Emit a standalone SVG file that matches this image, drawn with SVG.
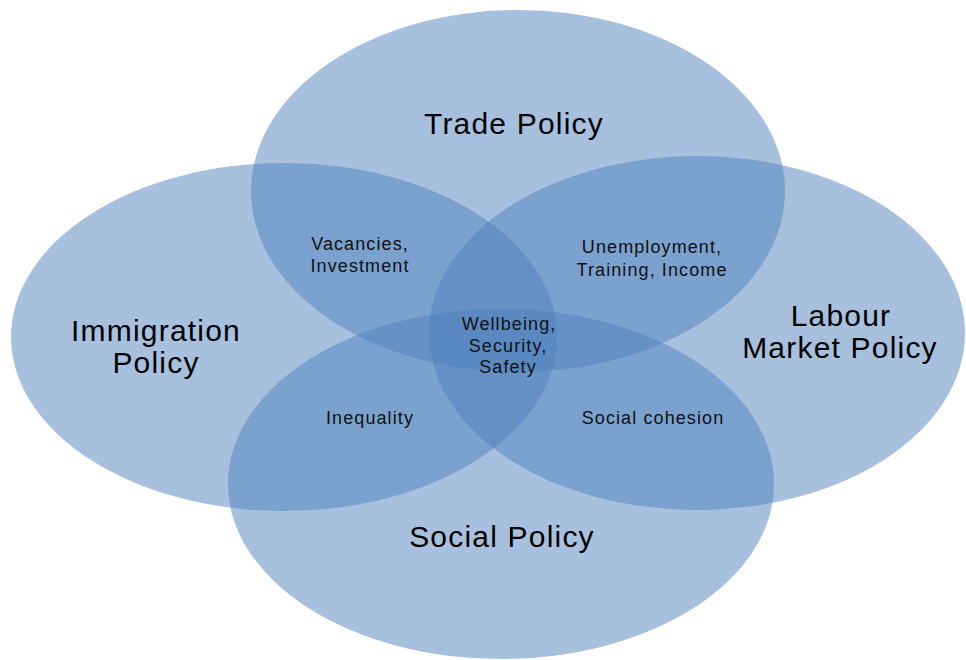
<svg xmlns="http://www.w3.org/2000/svg" width="966" height="660" viewBox="0 0 966 660">
  <style>
    .set { fill: #4f81bd; fill-opacity: 0.5; stroke: none; }
    .title { font-family: "Liberation Sans", Arial, sans-serif; font-size: 30px; letter-spacing: 1.2px; fill: #000; text-anchor: middle; }
    .overlap { font-family: "Liberation Sans", Arial, sans-serif; font-size: 18px; letter-spacing: 1.1px; fill: #111; text-anchor: middle; }
  </style>
  <rect width="966" height="660" fill="#ffffff"/>

  <!-- policy sets -->
  <g id="trade-policy">
    <ellipse class="set" cx="518" cy="191" rx="267" ry="181"/>
    <text class="title" x="514" y="134">Trade Policy</text>
  </g>
  <g id="immigration-policy">
    <ellipse class="set" cx="284" cy="337" rx="273" ry="174"/>
    <text class="title" x="156" y="341">Immigration</text>
    <text class="title" x="156" y="373">Policy</text>
  </g>
  <g id="labour-market-policy">
    <ellipse class="set" cx="697" cy="333" rx="268" ry="177"/>
    <text class="title" x="841" y="326">Labour</text>
    <text class="title" x="840" y="358">Market Policy</text>
  </g>
  <g id="social-policy">
    <ellipse class="set" cx="501" cy="484" rx="273" ry="175"/>
    <text class="title" x="502" y="547">Social Policy</text>
  </g>

  <!-- overlap labels -->
  <g id="vacancies-investment">
    <text class="overlap" x="360" y="250">Vacancies,</text>
    <text class="overlap" x="360" y="272">Investment</text>
  </g>
  <g id="unemployment-training-income">
    <text class="overlap" x="652" y="253">Unemployment,</text>
    <text class="overlap" x="652" y="276">Training, Income</text>
  </g>
  <g id="wellbeing-security-safety">
    <text class="overlap" x="509" y="330">Wellbeing,</text>
    <text class="overlap" x="508" y="352">Security,</text>
    <text class="overlap" x="508" y="373">Safety</text>
  </g>
  <g id="inequality">
    <text class="overlap" x="370" y="424">Inequality</text>
  </g>
  <g id="social-cohesion">
    <text class="overlap" x="653" y="424">Social cohesion</text>
  </g>

  <g id="connectors"/>
</svg>
